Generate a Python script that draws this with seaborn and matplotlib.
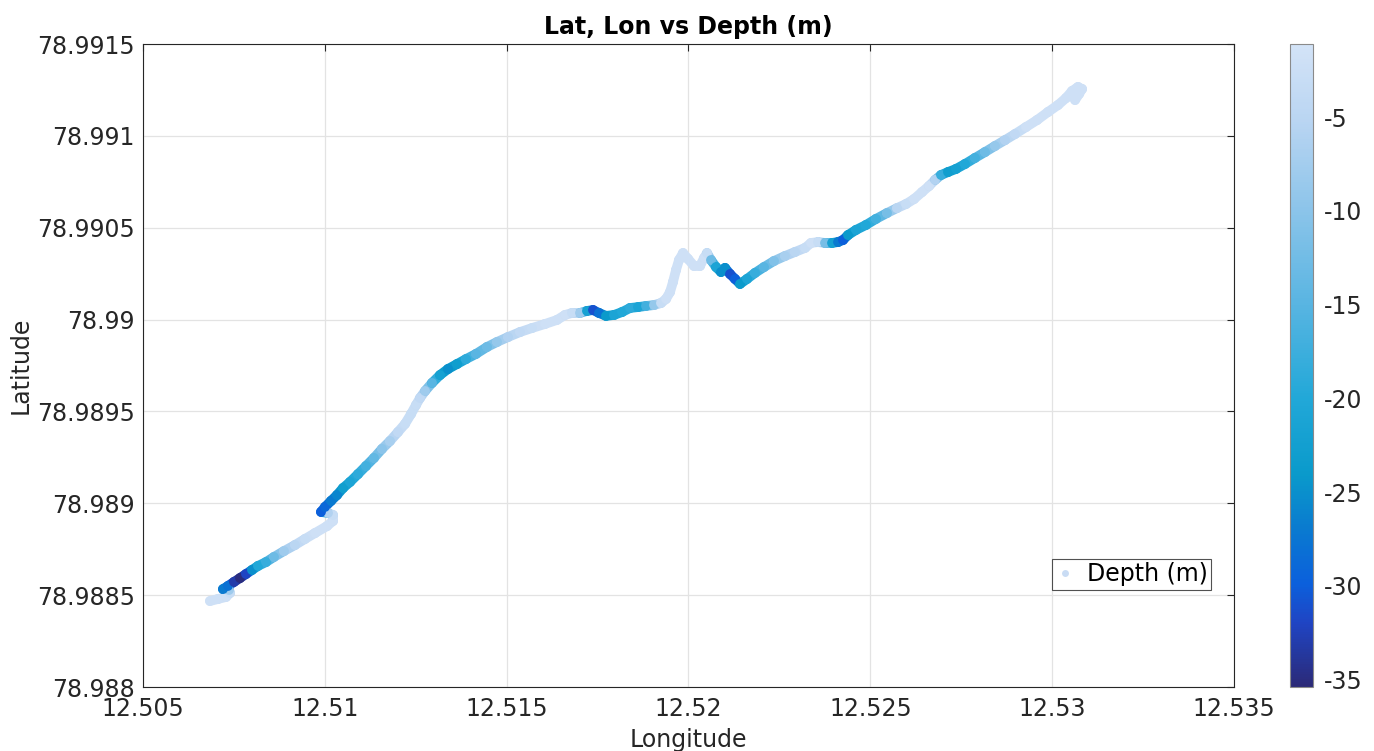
import numpy as np
import matplotlib
matplotlib.use("Agg")
import matplotlib.pyplot as plt
import seaborn as sns
from matplotlib.colors import LinearSegmentedColormap, Normalize
from matplotlib.collections import LineCollection
from matplotlib.lines import Line2D
from matplotlib.cm import ScalarMappable

# Survey track: longitude, latitude and depth (m) of each logged position
lon = [12.506842, 12.507062, 12.507282, 12.507392, 12.507365, 12.507200, 12.507337,
       12.507502, 12.507667, 12.507832, 12.507997, 12.508162, 12.508382, 12.508602,
       12.508877, 12.509180, 12.509455, 12.509730, 12.510060, 12.510225, 12.510225,
       12.510087, 12.509895, 12.510005, 12.510170, 12.510335, 12.510500, 12.510692,
       12.510912, 12.511132, 12.511352, 12.511572, 12.511792, 12.512012, 12.512205,
       12.512370, 12.512507, 12.512617, 12.512755, 12.512947, 12.513167, 12.513387,
       12.513635, 12.513882, 12.514157, 12.514460, 12.514735, 12.515037, 12.515367,
       12.515697, 12.516054, 12.516384, 12.516604, 12.516797, 12.517017, 12.517209,
       12.517374, 12.517539, 12.517732, 12.517952, 12.518172, 12.518392, 12.518612,
       12.518832, 12.519052, 12.519244, 12.519382, 12.519492, 12.519574, 12.519657,
       12.519739, 12.519849, 12.519987, 12.520152, 12.520317, 12.520427, 12.520509,
       12.520619, 12.520757, 12.520894, 12.521004, 12.521142, 12.521279, 12.521417,
       12.521609, 12.521829, 12.522077, 12.522352, 12.522654, 12.522929, 12.523204,
       12.523369, 12.523562, 12.523754, 12.523947, 12.524112, 12.524249, 12.524386,
       12.524606, 12.524881, 12.525156, 12.525459, 12.525734, 12.525981, 12.526201,
       12.526421, 12.526614, 12.526779, 12.526944, 12.527136, 12.527356, 12.527604,
       12.527879, 12.528154, 12.528429, 12.528704, 12.528979, 12.529281, 12.529584,
       12.529886, 12.530161, 12.530381, 12.530546, 12.530711, 12.530821, 12.530739,
       12.530629]

lat = [78.988468, 78.988479, 78.988490, 78.988512, 78.988528, 78.988533, 78.988550,
       78.988572, 78.988593, 78.988615, 78.988637, 78.988659, 78.988680, 78.988708,
       78.988740, 78.988773, 78.988806, 78.988838, 78.988876, 78.988904, 78.988936,
       78.988947, 78.988953, 78.988980, 78.989013, 78.989045, 78.989083, 78.989116,
       78.989159, 78.989203, 78.989247, 78.989296, 78.989339, 78.989388, 78.989432,
       78.989486, 78.989535, 78.989573, 78.989611, 78.989655, 78.989698, 78.989731,
       78.989758, 78.989785, 78.989813, 78.989851, 78.989878, 78.989905, 78.989932,
       78.989954, 78.989976, 78.989998, 78.990025, 78.990036, 78.990036, 78.990047,
       78.990052, 78.990036, 78.990020, 78.990025, 78.990041, 78.990063, 78.990068,
       78.990074, 78.990079, 78.990090, 78.990112, 78.990150, 78.990205, 78.990270,
       78.990324, 78.990362, 78.990330, 78.990292, 78.990292, 78.990335, 78.990362,
       78.990324, 78.990286, 78.990259, 78.990281, 78.990248, 78.990221, 78.990194,
       78.990221, 78.990254, 78.990286, 78.990319, 78.990346, 78.990368, 78.990390,
       78.990417, 78.990422, 78.990417, 78.990417, 78.990422, 78.990433, 78.990460,
       78.990488, 78.990515, 78.990548, 78.990580, 78.990607, 78.990629, 78.990656,
       78.990694, 78.990727, 78.990760, 78.990787, 78.990803, 78.990820, 78.990847,
       78.990880, 78.990912, 78.990945, 78.990977, 78.991010, 78.991048, 78.991086,
       78.991130, 78.991168, 78.991206, 78.991244, 78.991266, 78.991255, 78.991228,
       78.991195]

depth = [-2, -2, -2, -3, -8, -27, -28, -33, -35, -32, -25, -20, -18, -13,
         -8, -5, -3, -2, -2, -2, -3, -6, -30, -29, -27, -26, -23, -21,
         -19, -17, -14, -10, -7, -4, -3, -3, -3, -4, -8, -15, -22, -25,
         -23, -19, -15, -13, -9, -6, -4, -3, -2, -2, -2, -3, -8, -22,
         -31, -28, -24, -21, -20, -19, -21, -17, -9, -3, -2, -2, -2, -2,
         -2, -2, -2, -2, -2, -2, -3, -13, -21, -25, -25, -31, -30, -24,
         -21, -18, -15, -11, -7, -5, -3, -2, -3, -12, -22, -27, -30, -24,
         -21, -20, -17, -12, -5, -3, -2, -2, -2, -6, -18, -23, -22, -20,
         -17, -13, -9, -6, -4, -2, -2, -2, -2, -2, -2, -2, -2, -2,
         -2]

x_ticks = [12.505, 12.51, 12.515, 12.52, 12.525, 12.53, 12.535]
x_tick_labels = ["12.505", "12.51", "12.515", "12.52", "12.525", "12.53", "12.535"]
y_ticks = [78.988, 78.9885, 78.989, 78.9895, 78.99, 78.9905, 78.991, 78.9915]
y_tick_labels = ["78.988", "78.9885", "78.989", "78.9895", "78.99", "78.9905", "78.991", "78.9915"]
cbar_ticks = [-35, -30, -25, -20, -15, -10, -5]
cbar_tick_labels = ["-35", "-30", "-25", "-20", "-15", "-10", "-5"]

sns.set_style("white")
plt.rcParams["font.family"] = ["DejaVu Sans"]
plt.rcParams["axes.unicode_minus"] = False

ink = "#262626"
fs = 17
depth_cmap = LinearSegmentedColormap.from_list(
    "depth_blues",
    [(0.00, "#2b2a78"), (0.10, "#1f45c4"), (0.16, "#0b60dc"), (0.25, "#0a7ccf"),
     (0.33, "#0a9acb"), (0.45, "#22a8d8"), (0.60, "#5ab5e2"), (0.75, "#8ec5ea"),
     (0.88, "#b9d5f2"), (1.00, "#d3e3f7")])
norm = Normalize(vmin=-35.4, vmax=-1.1)

fig = plt.figure(figsize=(13.74, 7.51), dpi=100)
ax = fig.add_axes([143 / 1374, 64 / 751, 1091 / 1374, 643 / 751])

# continuous ribbon beneath the sample dots
pts = np.column_stack([lon, lat])
segs = np.stack([pts[:-1], pts[1:]], axis=1)
seg_depth = (np.array(depth[:-1]) + np.array(depth[1:])) / 2
lc = LineCollection(segs, cmap=depth_cmap, norm=norm, linewidths=7,
                    capstyle="round", joinstyle="round", zorder=2)
lc.set_array(seg_depth)
ax.add_collection(lc)

sns.scatterplot(x=lon, y=lat, hue=depth, palette=depth_cmap, hue_norm=norm,
                s=50, linewidth=0, legend=False, ax=ax, zorder=3)

ax.set_xlim(12.505, 12.535)
ax.set_ylim(78.988, 78.9915)
ax.set_xticks(x_ticks)
ax.set_xticklabels(x_tick_labels)
ax.set_yticks(y_ticks)
ax.set_yticklabels(y_tick_labels)
ax.grid(True, color="#e3e3e3", linewidth=0.9, zorder=0)
ax.set_axisbelow(True)
ax.tick_params(axis="both", labelsize=fs, colors=ink, direction="in",
               length=5, width=0.8, top=True, right=True)
ax.tick_params(axis="x", pad=7)
ax.tick_params(axis="y", pad=6)
for s in ax.spines.values():
    s.set_color(ink)
    s.set_linewidth(0.8)

ax.set_xlabel("Longitude", fontsize=fs, color=ink, labelpad=5)
ax.set_ylabel("Latitude", fontsize=fs, color=ink, labelpad=3)
ax.set_title("Lat, Lon vs Depth (m)", fontsize=fs, fontweight="bold", color="black", pad=7)

handle = Line2D([], [], linestyle="none", marker="o", markersize=5,
                markerfacecolor="#c9dcf4", markeredgecolor="none")
leg = ax.legend([handle], ["Depth (m)"], loc="lower right",
                bbox_to_anchor=(0.979, 0.151), fontsize=fs, frameon=True,
                fancybox=False, handlelength=0.8, handletextpad=0.5,
                borderpad=0.15, borderaxespad=0)
leg.get_frame().set_edgecolor(ink)
leg.get_frame().set_linewidth(0.8)
for t in leg.get_texts():
    t.set_color("black")

cax = fig.add_axes([1290 / 1374, 64 / 751, 23 / 1374, 643 / 751])
cb = fig.colorbar(ScalarMappable(norm=norm, cmap=depth_cmap), cax=cax)
cb.set_ticks(cbar_ticks)
cb.set_ticklabels(cbar_tick_labels)
cb.ax.tick_params(labelsize=fs, colors=ink, direction="in", length=5, width=0.8, pad=8)
cb.outline.set_edgecolor("#8a8a8a")
cb.outline.set_linewidth(0.8)

fig.savefig("out.png", dpi=100)
